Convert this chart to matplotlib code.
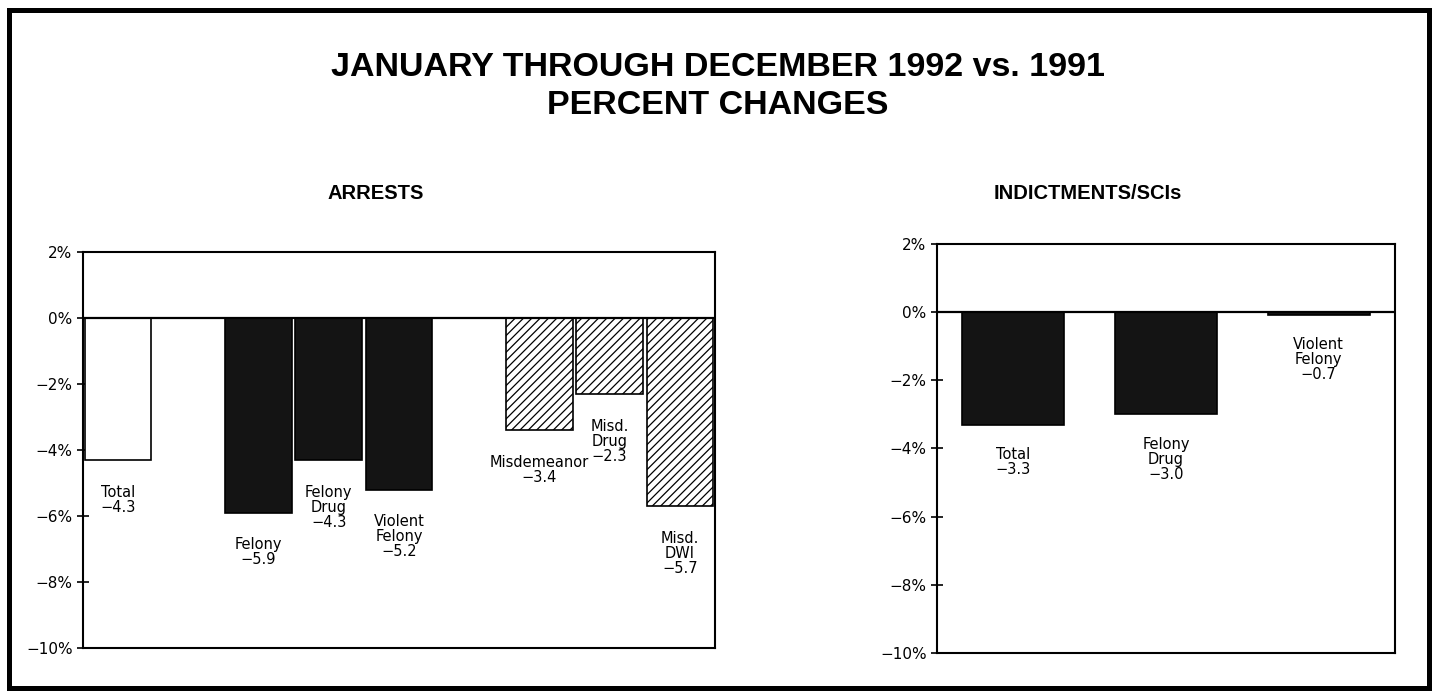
import matplotlib
matplotlib.use("Agg")
import matplotlib.pyplot as plt
from matplotlib.patches import Rectangle

# Arrests, percent change 1992 vs 1991
arrest_labels = ["Total", "Felony", "Felony\nDrug", "Violent\nFelony",
                 "Misdemeanor", "Misd.\nDrug", "Misd.\nDWI"]
arrest_changes = [-4.3, -5.9, -4.3, -5.2, -3.4, -2.3, -5.7]
arrest_slots = [0, 2, 3, 4, 6, 7, 8]
arrest_kind = ["total", "felony", "felony", "felony", "misd", "misd", "misd"]

# Indictments/SCIs
indict_labels = ["Total", "Felony\nDrug", "Violent\nFelony"]
indict_changes = [-3.3, -3.0, -0.7]
# the original draws the last bar only as a sliver at the zero line
indict_drawn = [-3.3, -3.0, -0.07]
indict_slots = [0, 1, 2]

yticks = [2, 0, -2, -4, -6, -8, -10]
ytick_labels = ["2%", "0%", "\u22122%", "\u22124%", "\u22126%", "\u22128%", "\u221210%"]

styles = {
    "total": dict(facecolor="white", hatch=None),
    "felony": dict(facecolor="#141414", hatch=None),
    "misd": dict(facecolor="white", hatch="////"),
}

plt.rcParams["hatch.linewidth"] = 0.9
plt.rcParams["font.family"] = ["DejaVu Sans"]

fig = plt.figure(figsize=(14.38, 6.92), dpi=100)
fig.patch.set_facecolor("white")


def style_axes(ax):
    ax.set_ylim(-10, 2)
    ax.set_yticks(yticks)
    ax.set_yticklabels(ytick_labels, fontsize=11)
    ax.tick_params(axis="y", direction="inout", length=9, width=1.2, pad=3)
    ax.set_xticks([])
    for s in ax.spines.values():
        s.set_linewidth(1.5)
    ax.axhline(0, color="black", lw=1.6, zorder=3)


# left panel
ax1 = fig.add_axes([0.0577, 0.0636, 0.4395, 0.5722])
for x, v, k in zip(arrest_slots, arrest_changes, arrest_kind):
    st = styles[k]
    ax1.bar(x, v, width=0.95, facecolor=st["facecolor"], hatch=st["hatch"],
            edgecolor="black", linewidth=1.2, zorder=2)
for x, v, lab in zip(arrest_slots, arrest_changes, arrest_labels):
    ax1.text(x, v - 0.75, lab + "\n\u2212" + str(abs(v)), ha="center", va="top",
             fontsize=10.5, linespacing=1.0)
ax1.set_xlim(-0.5, 8.5)
style_axes(ax1)

# right panel
ax2 = fig.add_axes([0.6516, 0.0564, 0.3185, 0.591])
for x, v in zip(indict_slots, indict_drawn):
    ax2.bar(x, v, width=0.67, facecolor="#141414", edgecolor="black",
            linewidth=1.2, zorder=2)
for x, v, lab in zip(indict_slots, indict_drawn, indict_labels):
    val = indict_changes[x]
    ax2.text(x, v - 0.65, lab + "\n\u2212" + str(abs(val)), ha="center", va="top",
             fontsize=10.5, linespacing=1.0)
ax2.set_xlim(-0.5, 2.5)
style_axes(ax2)

# titles
fig.text(0.499, 0.903, "JANUARY THROUGH DECEMBER 1992 vs. 1991", ha="center",
         va="center", fontsize=24.5, fontweight="bold", family="Liberation Sans")
fig.text(0.499, 0.848, "PERCENT CHANGES", ha="center", va="center",
         fontsize=24.5, fontweight="bold", family="Liberation Sans")
fig.text(0.2615, 0.721, "ARRESTS", ha="center", va="center",
         fontsize=14.5, fontweight="bold", family="Liberation Sans")
fig.text(0.7566, 0.721, "INDICTMENTS/SCIs", ha="center", va="center",
         fontsize=14.5, fontweight="bold", family="Liberation Sans")

# outer frame
fig.patches.append(Rectangle((0.0063, 0.0058), 0.9874, 0.9797,
                             transform=fig.transFigure, fill=False,
                             edgecolor="black", linewidth=3.6))

fig.savefig("out.png", dpi=100)
